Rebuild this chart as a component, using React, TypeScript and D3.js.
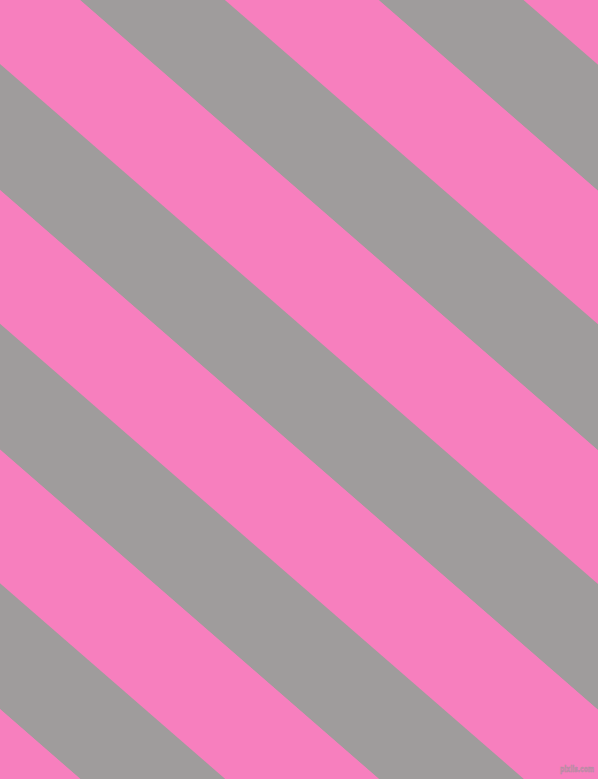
import React from "react";
import * as d3 from "d3";

// Stripe pattern (perpendicular band widths, in px) and colours
const stripeNames = ["pink", "gray", "pink", "gray", "pink", "gray", "pink", "gray", "pink", "gray", "pink"];
const stripeWidths = [100.9, 95.0, 100.9, 95.0, 100.9, 95.0, 100.9, 95.0, 100.9, 95.0, 100.9];
const stripeColors: Record<string, string> = { pink: "#F77FBE", gray: "#9F9C9C" };
const stripeAngle = 41.0;
const stripeStart = -444.35;
const watermark = "pixlis.com";

const W = 598;
const H = 779;

export default function App() {
  const ends = d3.cumsum(stripeWidths);
  const starts = stripeWidths.map((w, i) => (i === 0 ? 0 : ends[i - 1]));
  const y = d3.scaleLinear().domain([0, 1]).range([stripeStart, stripeStart + 1]);
  return (
    <svg
      width={W}
      height={H}
      viewBox={`0 0 ${W} ${H}`}
      style={{ position: "fixed", left: 0, top: 0, display: "block" }}
    >
      <rect x={0} y={0} width={W} height={H} fill={stripeColors.pink} />
      <g transform={`rotate(${stripeAngle})`}>
        {stripeNames.map((n, i) => (
          <rect
            key={i}
            x={-800}
            y={y(starts[i])}
            width={2600}
            height={stripeWidths[i] + 0.2}
            fill={stripeColors[n]}
          />
        ))}
      </g>
      <text
        x={560}
        y={772}
        fontFamily="DejaVu Sans, sans-serif"
        fontWeight="bold"
        fontSize={9.5}
        textLength={34}
        lengthAdjust="spacingAndGlyphs"
        fill="#D088B0"
        stroke="#A8909C"
        strokeWidth={0.5}
      >
        {watermark}
      </text>
    </svg>
  );
}
